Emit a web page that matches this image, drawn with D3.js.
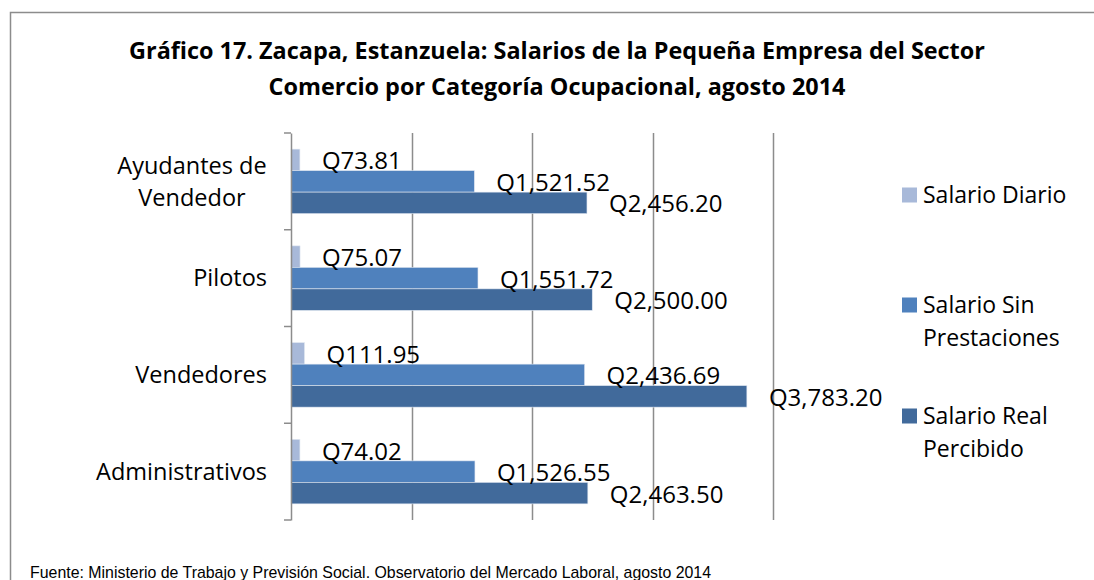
<!DOCTYPE html>
<html>
<head>
<meta charset="utf-8">
<script src="https://cdn.jsdelivr.net/npm/d3@7"></script>
<style>
  body { margin: 0; background: #fff; }
  svg { display: block; }
</style>
</head>
<body>
<svg width="1094" height="580"></svg>
<script>
var categorias = ["Ayudantes de Vendedor", "Pilotos", "Vendedores", "Administrativos"];
var series = ["Salario Diario", "Salario Sin Prestaciones", "Salario Real Percibido"];
var salarioDiario = [73.81, 75.07, 111.95, 74.02];
var salarioSinPrest = [1521.52, 1551.72, 2436.69, 1526.55];
var salarioReal = [2456.20, 2500.00, 3783.20, 2463.50];
var xTicks = [1000, 2000, 3000, 4000];
var colores = ["#a8b9d9", "#4f81bd", "#416a9b"];

var svg = d3.select("svg"),
    fuente = "'Open Sans', Lato, sans-serif";

var valores = [salarioDiario, salarioSinPrest, salarioReal];
var datos = [];
categorias.forEach(function(c, i) {
  series.forEach(function(s, j) {
    datos.push({cat: c, serie: s, v: valores[j][i], j: j});
  });
});

// marco
svg.append("rect")
    .attr("x", 10.5).attr("y", 12.5)
    .attr("width", 1100).attr("height", 600)
    .attr("fill", "none").attr("stroke", "#8c8c8c").attr("stroke-width", 1.5);

// titulo
var titulo = svg.append("text")
    .attr("text-anchor", "middle")
    .style("font-family", fuente).style("font-weight", "bold").style("font-size", "23.4px")
    .attr("fill", "#000");
titulo.append("tspan").attr("x", 557).attr("y", 59)
    .text("Gráfico 17. Zacapa, Estanzuela: Salarios de la Pequeña Empresa del Sector");
titulo.append("tspan").attr("x", 557).attr("y", 95)
    .text("Comercio por Categoría Ocupacional, agosto 2014");

var x = d3.scaleLinear().domain([0, 4000]).range([291, 773]);
var y = d3.scaleBand().domain(categorias).range([133, 520]).paddingInner(0);
var ySub = d3.scaleBand().domain(series).range([0, y.bandwidth()]).paddingOuter(0.75);

// rejilla
svg.append("g").selectAll("line")
    .data(xTicks)
    .enter().append("line")
      .attr("x1", function(d) { return Math.round(x(d)) + 0.5; })
      .attr("x2", function(d) { return Math.round(x(d)) + 0.5; })
      .attr("y1", 133).attr("y2", 520)
      .attr("stroke", "#8c8c8c").attr("stroke-width", 1.5);

// barras
svg.append("g").selectAll("rect")
    .data(datos)
    .enter().append("rect")
      .attr("x", x(0))
      .attr("y", function(d) { return y(d.cat) + ySub(d.serie); })
      .attr("width", function(d) { return x(d.v) - x(0); })
      .attr("height", ySub.bandwidth())
      .attr("fill", function(d) { return colores[d.j]; })
      .attr("stroke", "#dfe6f0").attr("stroke-width", 0.6);

// etiquetas de datos
var fmt = d3.format(",.2f");
svg.append("g").selectAll("text")
    .data(datos)
    .enter().append("text")
      .attr("x", function(d) { return x(d.v) + 22; })
      .attr("y", function(d) { return y(d.cat) + ySub(d.serie) + ySub.bandwidth() / 2 + 1; })
      .attr("dy", "0.35em")
      .style("font-family", fuente).style("font-size", "24px")
      .text(function(d) { return "Q" + fmt(d.v); });

// eje y
var eje = svg.append("g")
    .attr("transform", "translate(" + 291 + ",0)")
    .call(d3.axisLeft(y).tickSize(0).tickFormat(""));
eje.select(".domain").attr("stroke", "#8c8c8c").attr("stroke-width", 1.5);
svg.append("g").selectAll("line")
    .data(d3.range(categorias.length + 1))
    .enter().append("line")
      .attr("x1", 284).attr("x2", 291)
      .attr("y1", function(i) { return 133 + i * y.step(); })
      .attr("y2", function(i) { return 133 + i * y.step(); })
      .attr("stroke", "#8c8c8c").attr("stroke-width", 1.5);

// nombres de categorias
var etiquetas = svg.append("g").selectAll("text")
    .data(categorias)
    .enter().append("text")
      .style("font-family", fuente).style("font-size", "23.5px")
      .attr("fill", "#000");
etiquetas.each(function(d) {
  var t = d3.select(this), yc = y(d) + y.bandwidth() / 2;
  if (d == "Ayudantes de Vendedor") {
    t.attr("text-anchor", "middle");
    t.append("tspan").attr("x", 192).attr("y", yc - 16).attr("dy", "0.35em").text("Ayudantes de");
    t.append("tspan").attr("x", 192).attr("y", yc + 16).attr("dy", "0.35em").text("Vendedor");
  } else {
    t.attr("text-anchor", "end").attr("x", 267).attr("y", yc).attr("dy", "0.35em").text(d);
  }
});

// leyenda
var leyenda = [
  {lineas: ["Salario Diario"], y: 195},
  {lineas: ["Salario Sin", "Prestaciones"], y: 305},
  {lineas: ["Salario Real", "Percibido"], y: 416}
];
var leg = svg.append("g").selectAll("g")
    .data(leyenda)
    .enter().append("g");
leg.append("rect")
    .attr("x", 902).attr("y", function(d) { return d.y - 7.5; })
    .attr("width", 15).attr("height", 15)
    .attr("fill", function(d, i) { return colores[i]; });
leg.append("text")
    .style("font-family", fuente).style("font-size", "23px")
    .each(function(d) {
      var t = d3.select(this);
      d.lineas.forEach(function(l, k) {
        t.append("tspan").attr("x", 923).attr("y", d.y + k * 33).attr("dy", "0.35em").text(l);
      });
    });

// fuente
svg.append("text")
    .attr("x", 30).attr("y", 578)
    .style("font-family", "'Liberation Sans Narrow', 'Liberation Sans', sans-serif")
    .style("font-size", "15.9px")
    .text("Fuente: Ministerio de Trabajo y Previsión Social. Observatorio del Mercado Laboral, agosto 2014");
</script>
</body>
</html>
